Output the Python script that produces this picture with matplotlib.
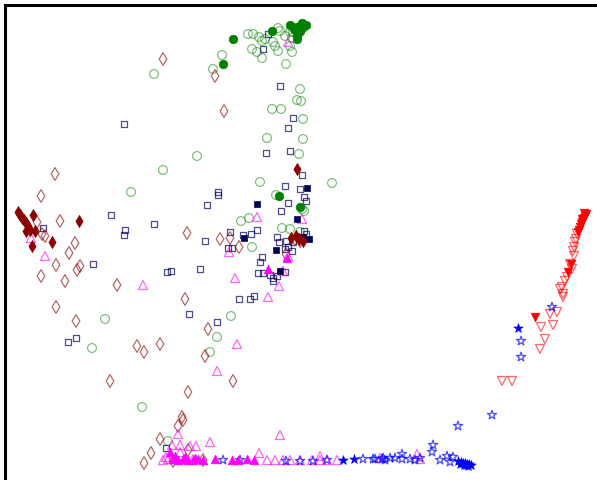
import matplotlib
matplotlib.use("Agg")
import matplotlib.pyplot as plt

# 2-D embedding of six classes; open markers = one subset, filled = the other.
# Coordinates are in embedding units (x to the right, y upward).

green_open_x = [213, 222, 248, 253, 259, 265, 278, 280, 285, 290, 293, 292, 273, 275, 278, 252, 257, 262, 290, 292, 286, 262, 300, 303,
                154, 300, 297, 301, 272, 281, 303, 267, 303, 299, 197, 163, 131, 260, 332, 290, 300, 241, 249, 252, 302, 304, 282,
                105, 231, 217, 92, 210, 142, 168, 276]
green_open_y = [411, 425, 446, 446, 443, 441, 452, 449, 444, 448, 448, 442, 438, 434, 429, 431, 428, 422, 434, 428, 416, 439, 448, 454,
                406, 391, 380, 379, 371, 371, 361, 342, 341, 326, 324, 310, 288, 298, 297, 251, 248, 259, 262, 233, 271, 269, 252,
                161, 164, 143, 132, 128, 73, 39, 285]

green_fill_x = [233, 223, 272, 290, 297, 300, 306, 303, 300, 297, 297, 279, 300, 294, 302]
green_fill_y = [441, 416, 449, 455, 453, 454, 455, 453, 449, 441, 444, 284, 273, 451, 457]

navy_open_x = [268, 263, 124, 280, 293, 288, 266, 290, 302, 285, 300, 218, 218, 207, 288, 304, 306, 281, 230, 243, 251, 257, 205,
               228, 232, 277, 279, 286, 293, 304, 306, 288, 292, 285, 262, 260, 258, 263, 270, 273, 277, 273, 285, 200,
               111, 43, 93, 154, 125, 124, 167, 171, 239, 250, 189, 217, 76, 68, 166, 254]
navy_open_y = [446, 431, 356, 394, 362, 352, 327, 329, 305, 294, 291, 288, 285, 275, 277, 283, 279, 269, 248, 245, 246, 250, 239,
               232, 232, 243, 238, 239, 238, 249, 246, 233, 229, 231, 223, 218, 207, 207, 205, 202, 204, 199, 208, 211,
               265, 252, 216, 256, 250, 245, 208, 209, 181, 181, 166, 158, 142, 138, 32, 184]

navy_fill_x = [257, 307, 297, 244, 276, 280, 309, 303]
navy_fill_y = [276, 292, 261, 242, 230, 209, 241, 243]

red_dia_open_x = [215, 163, 224, 55, 41, 60, 37, 42, 45, 75, 69, 56, 80, 77, 65, 41, 220, 230, 239, 286, 300, 295, 187,
                  117, 185, 56, 76, 208, 137, 144, 160, 205, 110, 233, 188, 182, 178, 183, 151, 144, 188, 173, 203, 160]
red_dia_open_y = [404, 421, 369, 306, 284, 259, 258, 246, 244, 237, 227, 215, 214, 210, 199, 204, 241, 242, 233, 226, 239, 241, 247,
                  195, 181, 173, 159, 151, 134, 128, 136, 124, 99, 99, 88, 63, 54, 60, 27, 17, 30, 19, 20, 41]

red_dia_fill_x = [18, 20, 22, 24, 26, 28, 33, 30, 26, 35, 79, 52, 32, 297, 291, 299, 303, 296]
red_dia_fill_y = [268, 265, 262, 260, 257, 254, 265, 250, 249, 249, 259, 238, 234, 311, 242, 241, 239, 244]

mag_open_x = [288, 257, 302, 235, 279, 283, 288, 268, 143, 31, 45, 237, 217, 229, 178, 280, 172, 180, 190, 196, 210, 180,
              259, 163, 267, 275, 283, 290, 300, 312, 320, 327, 337, 380, 417, 420, 168, 176, 185, 193, 166, 320]
mag_open_y = [438, 263, 261, 202, 194, 209, 224, 183, 195, 242, 224, 136, 109, 228, 46, 45, 35, 35, 34, 34, 38, 28,
              27, 20, 20, 20, 20, 20, 20, 20, 20, 20, 20, 22, 26, 21, 21, 21, 21, 21, 23, 24]

mag_fill_x = [287, 268, 170, 173, 178, 183, 188, 193, 198, 203, 215, 232, 238, 247, 254, 175, 185, 195]
mag_fill_y = [222, 211, 28, 21, 20, 21, 20, 20, 21, 20, 21, 20, 20, 21, 20, 24, 23, 22]

red_tri_open_x = [577, 576, 575, 574, 573, 570, 567, 565, 562, 560, 563, 563, 550, 557, 553, 541, 545, 540, 512, 502, 574, 572]
red_tri_open_y = [246, 241, 238, 233, 229, 216, 203, 199, 193, 191, 186, 183, 166, 168, 155, 153, 141, 131, 99, 99, 224, 211]

red_tri_fill_x = [586, 585, 584, 583, 582, 581, 580, 579, 578, 568, 571, 535, 584, 582]
red_tri_fill_y = [266, 264, 262, 260, 258, 256, 253, 250, 248, 208, 216, 163, 267, 261]

blue_open_x = [552, 521, 521, 492, 458, 433, 432, 420, 402, 402, 395, 390, 382, 373, 363, 375, 327, 313, 300, 286,
               240, 223, 440, 447, 453, 450, 383, 385, 410, 415]
blue_open_y = [173, 139, 123, 65, 54, 35, 28, 22, 26, 21, 22, 22, 21, 21, 21, 21, 20, 19, 19, 19,
               20, 20, 20, 24, 23, 18, 22, 20, 21, 20]

blue_fill_x = [518, 343, 354, 458, 461, 463, 465, 467, 469, 471, 460, 464, 466, 468]
blue_fill_y = [152, 20, 21, 19, 18, 17, 17, 16, 16, 15, 16, 15, 15, 14]

fig = plt.figure(figsize=(5.97, 4.81), dpi=100)
ax = fig.add_axes([5 / 597, 1 - 490 / 481, 600 / 597, 484 / 481])
ax.set_xlim(5, 605)
ax.set_ylim(-9, 475)

def open_pts(x, y, marker, color, s, alpha):
    ax.scatter(x, y, marker=marker, s=s, facecolors="none", edgecolors=color,
               linewidths=0.9, alpha=alpha)

def fill_pts(x, y, marker, color, s):
    ax.scatter(x, y, marker=marker, s=s, color=color, linewidths=0.5)

open_pts(green_open_x, green_open_y, "o", "green", 40, 0.5)
open_pts(navy_open_x, navy_open_y, "s", "#000060", 24, 0.7)
open_pts(red_dia_open_x, red_dia_open_y, "d", "#8b0000", 42, 0.6)
open_pts(mag_open_x, mag_open_y, "^", "magenta", 42, 0.6)
open_pts(red_tri_open_x, red_tri_open_y, "v", "red", 42, 0.6)
open_pts(blue_open_x, blue_open_y, "*", "blue", 48, 0.7)

fill_pts(green_fill_x, green_fill_y, "o", "green", 38)
fill_pts(navy_fill_x, navy_fill_y, "s", "#000050", 24)
fill_pts(red_dia_fill_x, red_dia_fill_y, "d", "#8b0000", 38)
fill_pts(mag_fill_x, mag_fill_y, "^", "magenta", 38)
fill_pts(red_tri_fill_x, red_tri_fill_y, "v", "red", 38)
fill_pts(blue_fill_x, blue_fill_y, "*", "blue", 48)

ax.set_xticks([])
ax.set_yticks([])
for side in ("left", "top", "right", "bottom"):
    ax.spines[side].set_linewidth(2.2)
    ax.spines[side].set_color("black")

fig.savefig("out.png", dpi=100)
